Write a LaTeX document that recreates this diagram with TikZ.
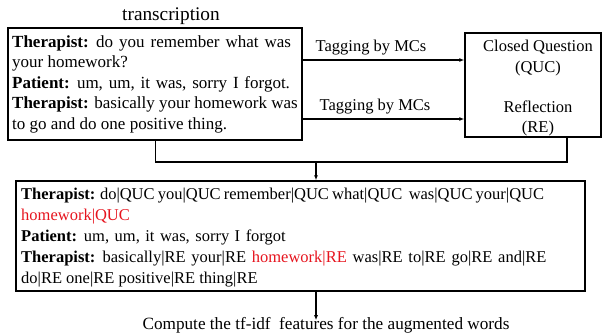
\documentclass[tikz,border=0pt]{standalone}
\usepackage{fontspec}
\setmainfont{Liberation Serif}
\usetikzlibrary{arrows.meta}
\definecolor{hl}{RGB}{230,20,30}
\begin{document}
\begin{tikzpicture}[x=1pt,y=-1pt,
  boxstyle/.style={draw,line width=1.5pt,inner sep=0pt},
  txt/.style={anchor=base west,inner sep=0pt,font=\fontsize{16.5}{20}\selectfont},
  ttxt/.style={anchor=base west,inner sep=0pt,font=\fontsize{17}{20}\selectfont},
  ctxt/.style={anchor=base,inner sep=0pt,font=\fontsize{16.5}{20}\selectfont},
  conn/.style={line width=1.2pt},
  arr/.style={line width=1.2pt,-{Latex[length=5pt,width=4pt]}}]
\useasboundingbox (0,0) rectangle (603,333);
% boxes
\node[boxstyle,minimum width=294pt,minimum height=112pt] (box1) at (155,84) {};
\node[boxstyle,minimum width=136pt,minimum height=104pt] (box2) at (533,85) {};
\node[boxstyle,minimum width=569pt,minimum height=110pt] (box3) at (300.5,236) {};
% title
\node[ctxt,font=\fontsize{19.3}{22}\selectfont] (title) at (171,20) {transcription};
% box1 text
\node[ttxt] (a1) at (12,47) {\spaceskip=6pt\textbf{Therapist:} do you remember what was};
\node[ttxt] (a2) at (12,67.5) {your homework?};
\node[ttxt] (a3) at (12,88) {\spaceskip=5.8pt\textbf{Patient:} um, um, it was, sorry I forgot.};
\node[ttxt] (a4) at (12,108.5) {\textbf{Therapist:} basically your homework was};
\node[ttxt] (a5) at (12,129) {to go and do one positive thing.};
% box2 text
\node[ctxt] (b1) at (538,51) {Closed Question};
\node[ctxt] (b2) at (538,72) {(QUC)};
\node[ctxt] (b3) at (538,112) {Reflection};
\node[ctxt] (b4) at (538,132) {(RE)};
% arrows
\coordinate (y1) at (0,60);
\coordinate (y2) at (0,119);
\draw[arr] (box1.east |- y1) -- (box2.west |- y1);
\draw[arr] (box1.east |- y2) -- (box2.west |- y2);
\node[ctxt] (t1) at (371,51) {Tagging by MCs};
\node[ctxt] (t2) at (375,110) {Tagging by MCs};
% merge connector
\coordinate (m1) at (155.5,162);
\coordinate (m2) at (567,162);
\coordinate (m3) at (316,162);
\draw[conn] (box1.south -| m1) -- (m1) -- (m2) -- (box2.south -| m2);
\draw[arr] (m3) -- (box3.north -| m3);
% box3 text
\node[txt] (c1) at (21,199) {\spaceskip=3.2pt\textbf{Therapist:} do|QUC you|QUC remember|QUC what|QUC\ \ was|QUC your|QUC};
\node[txt] (c2) at (21,220) {\textcolor{hl}{homework|QUC}};
\node[txt] (c3) at (21,241.5) {\spaceskip=5.5pt\textbf{Patient:} um, um, it was, sorry I forgot};
\node[txt] (c4) at (21,262) {\spaceskip=5.8pt\textbf{Therapist:} basically|RE your|RE \textcolor{hl}{homework|RE} was|RE to|RE go|RE and|RE};
\node[txt] (c5) at (21,283) {do|RE one|RE positive|RE thing|RE};
% output
\node[ctxt,font=\fontsize{17.2}{20}\selectfont] (out) at (326,329.5) {Compute the tf-idf\ \ features for the augmented words};
\draw[arr] (box3.south -| m3) -- ([yshift=-3pt]out.north -| m3);
\end{tikzpicture}
\end{document}
